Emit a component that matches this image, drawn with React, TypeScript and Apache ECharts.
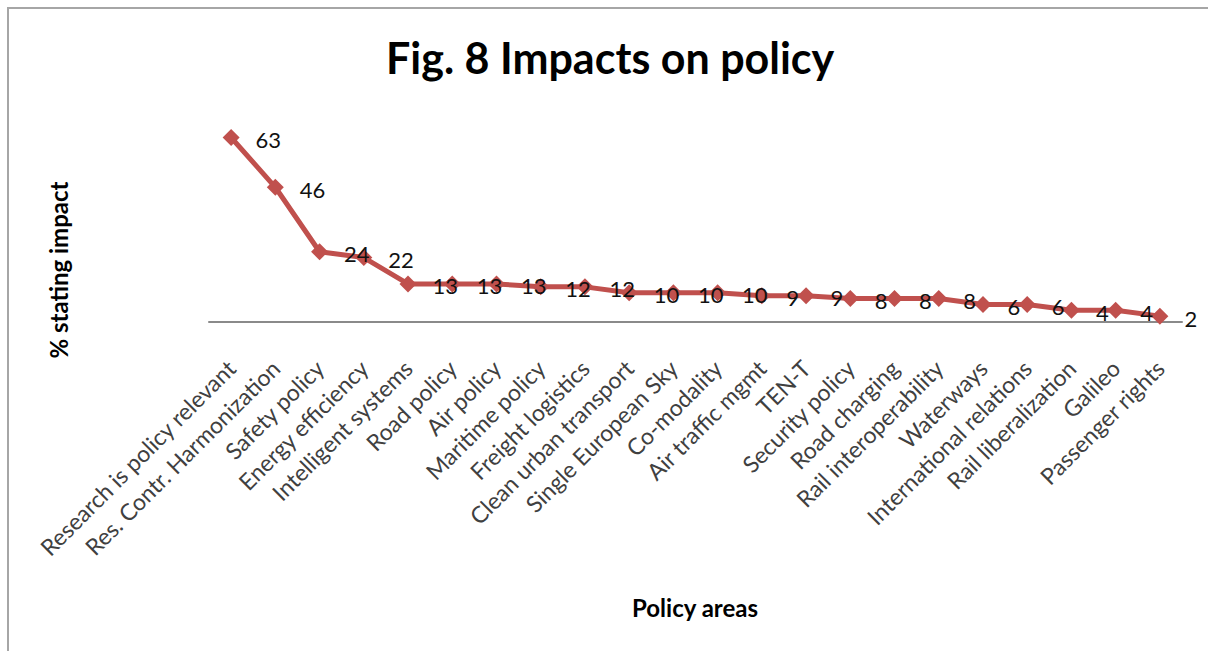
import React, { useEffect, useRef } from "react";
import * as echarts from "echarts";

// Policy areas, ordered by share of respondents stating an impact
const categories = [
  "Research is policy relevant",
  "Res. Contr. Harmonization",
  "Safety policy",
  "Energy efficiency",
  "Intelligent systems",
  "Road policy",
  "Air policy",
  "Maritime policy",
  "Freight logistics",
  "Clean urban transport",
  "Single European Sky",
  "Co-modality",
  "Air traffic mgmt",
  "TEN-T",
  "Security policy",
  "Road charging",
  "Rail interoperability",
  "Waterways",
  "International relations",
  "Rail liberalization",
  "Galileo",
  "Passenger rights",
];

// % stating impact
const impactValues = [63, 46, 24, 22, 13, 13, 13, 12, 12, 10, 10, 10, 9, 9, 8, 8, 8, 6, 6, 4, 4, 2];

const FONT = "Lato, 'Open Sans', sans-serif";
const LINE_COLOR = "#C0504D";

export default function App() {
  const ref = useRef<HTMLDivElement>(null);

  useEffect(() => {
    if (!ref.current) return;
    const chart = echarts.init(ref.current, undefined, { renderer: "svg" });
    chart.setOption({
      animation: false,
      backgroundColor: "#ffffff",
      title: {
        text: "Fig. 8 Impacts on policy",
        left: 381,
        top: 31,
        textStyle: {
          fontFamily: FONT,
          fontWeight: "bold",
          fontSize: 43,
          color: "#000000",
        },
      },
      grid: { left: 209, right: 26, top: 117, bottom: 329, containLabel: false },
      xAxis: {
        type: "category",
        data: categories,
        boundaryGap: true,
        axisLine: { show: true, lineStyle: { color: "#8a8a8a", width: 2 } },
        axisTick: { show: false },
        axisLabel: {
          interval: 0,
          rotate: 45,
          margin: 42,
          fontFamily: FONT,
          fontSize: 23,
          color: "#404040",
        },
      },
      yAxis: {
        type: "value",
        min: 0,
        max: 70,
        show: false,
        splitLine: { show: false },
      },
      series: [
        {
          type: "line",
          data: impactValues,
          symbol: "diamond",
          symbolSize: 17,
          lineStyle: { color: LINE_COLOR, width: 5 },
          itemStyle: { color: LINE_COLOR },
          label: {
            show: true,
            position: "right",
            distance: 16,
            offset: [0, 2],
            fontFamily: FONT,
            fontSize: 22,
            color: "#111111",
          },
        },
      ],
      graphic: [
        {
          type: "rect",
          shape: { x: 8, y: 8, width: 1220, height: 700 },
          style: { fill: "none", stroke: "#a6a6a6", lineWidth: 2 },
          silent: true,
          z: 0,
        },
        {
          type: "text",
          x: 58,
          y: 270,
          rotation: Math.PI / 2,
          style: {
            text: "% stating impact",
            fontFamily: FONT,
            fontWeight: "bold",
            fontSize: 24,
            fill: "#000000",
            align: "center",
            verticalAlign: "middle",
          },
        },
        {
          type: "text",
          x: 695,
          y: 607,
          style: {
            text: "Policy areas",
            fontFamily: FONT,
            fontWeight: "bold",
            fontSize: 24,
            fill: "#000000",
            align: "center",
            verticalAlign: "middle",
          },
        },
      ],
    });
    return () => chart.dispose();
  }, []);

  return (
    <div
      ref={ref}
      style={{ position: "fixed", left: 0, top: 0, width: 1208, height: 651 }}
    />
  );
}
